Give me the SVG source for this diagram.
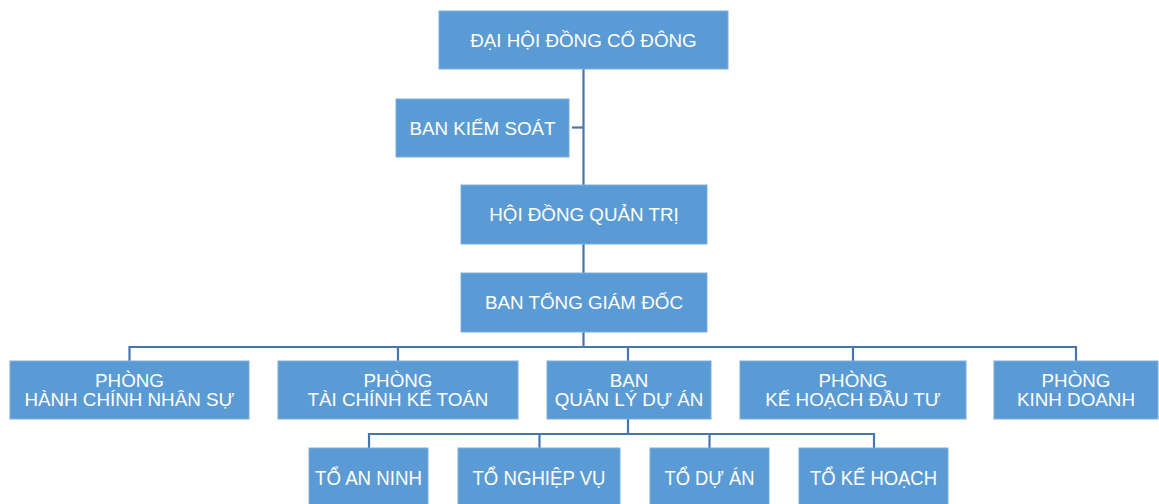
<svg xmlns="http://www.w3.org/2000/svg" width="1159" height="504" viewBox="0 0 1159 504">
<style>
.box{fill:#5B9BD5;stroke:#7AADDD;stroke-width:1}
.t{font-family:"Liberation Sans",Arial,sans-serif;font-size:18.8px;fill:#FFFFFF;text-anchor:middle}
.t3{font-family:"Liberation Sans",Arial,sans-serif;font-size:20px;fill:#FFFFFF;text-anchor:middle}
.c{fill:none;stroke:#4676AC;stroke-width:2.2}
</style>
<rect width="1159" height="504" fill="#FFFFFF"/>
<g id="connectors">
<path class="c" d="M583.5 69 V185"/>
<path class="c" d="M572 127.5 H583.5"/>
<path class="c" d="M583.5 244 V273"/>
<path class="c" d="M583.5 332 V347"/>
<path class="c" d="M129.5 361 V347 H1076 V361"/>
<path class="c" d="M398 347 V361"/>
<path class="c" d="M628 347 V361"/>
<path class="c" d="M853 347 V361"/>
<path class="c" d="M628 419 V434"/>
<path class="c" d="M369 448 V434 H874 V448"/>
<path class="c" d="M539.5 434 V448"/>
<path class="c" d="M709.5 434 V448"/>
</g>
<g id="dhdcd"><rect class="box" x="439" y="11" width="289" height="58"/><text class="t" x="583.5" y="46.5">ĐẠI HỘI ĐỒNG CỔ ĐÔNG</text></g>
<g id="bks"><rect class="box" x="396" y="99" width="173" height="58"/><text class="t" x="482.5" y="134.5">BAN KIỂM SOÁT</text></g>
<g id="hdqt"><rect class="box" x="461" y="185" width="246" height="59"/><text class="t" x="584" y="221">HỘI ĐỒNG QUẢN TRỊ</text></g>
<g id="btgd"><rect class="box" x="461" y="273" width="246" height="59"/><text class="t" x="584" y="309">BAN TỔNG GIÁM ĐỐC</text></g>
<g id="hcns"><rect class="box" x="10" y="361" width="239" height="58"/><text class="t" x="129.5" y="387">PHÒNG</text><text class="t" x="129.5" y="406">HÀNH CHÍNH NHÂN SỰ</text></g>
<g id="tckt"><rect class="box" x="278" y="361" width="240" height="58"/><text class="t" x="398" y="387">PHÒNG</text><text class="t" x="398" y="406">TÀI CHÍNH KẾ TOÁN</text></g>
<g id="bqlda"><rect class="box" x="547" y="361" width="164" height="58"/><text class="t" x="629" y="387">BAN</text><text class="t" x="629" y="406">QUẢN LÝ DỰ ÁN</text></g>
<g id="khdt"><rect class="box" x="740" y="361" width="226" height="58"/><text class="t" x="853" y="387">PHÒNG</text><text class="t" x="853" y="406">KẾ HOẠCH ĐẦU TƯ</text></g>
<g id="kd"><rect class="box" x="994" y="361" width="164" height="58"/><text class="t" x="1076" y="387">PHÒNG</text><text class="t" x="1076" y="406">KINH DOANH</text></g>
<g id="toanninh"><rect class="box" x="309" y="448" width="119" height="58"/><text class="t3" x="368.5" y="485" textLength="107" lengthAdjust="spacingAndGlyphs">TỔ AN NINH</text></g>
<g id="tonghiepvu"><rect class="box" x="458" y="448" width="162" height="58"/><text class="t3" x="539" y="485" textLength="133" lengthAdjust="spacingAndGlyphs">TỔ NGHIỆP VỤ</text></g>
<g id="toduan"><rect class="box" x="650" y="448" width="119" height="58"/><text class="t3" x="709.5" y="485" textLength="90" lengthAdjust="spacingAndGlyphs">TỔ DỰ ÁN</text></g>
<g id="tokehoach"><rect class="box" x="799" y="448" width="149" height="58"/><text class="t3" x="873.5" y="485" textLength="127" lengthAdjust="spacingAndGlyphs">TỔ KẾ HOẠCH</text></g>
</svg>
